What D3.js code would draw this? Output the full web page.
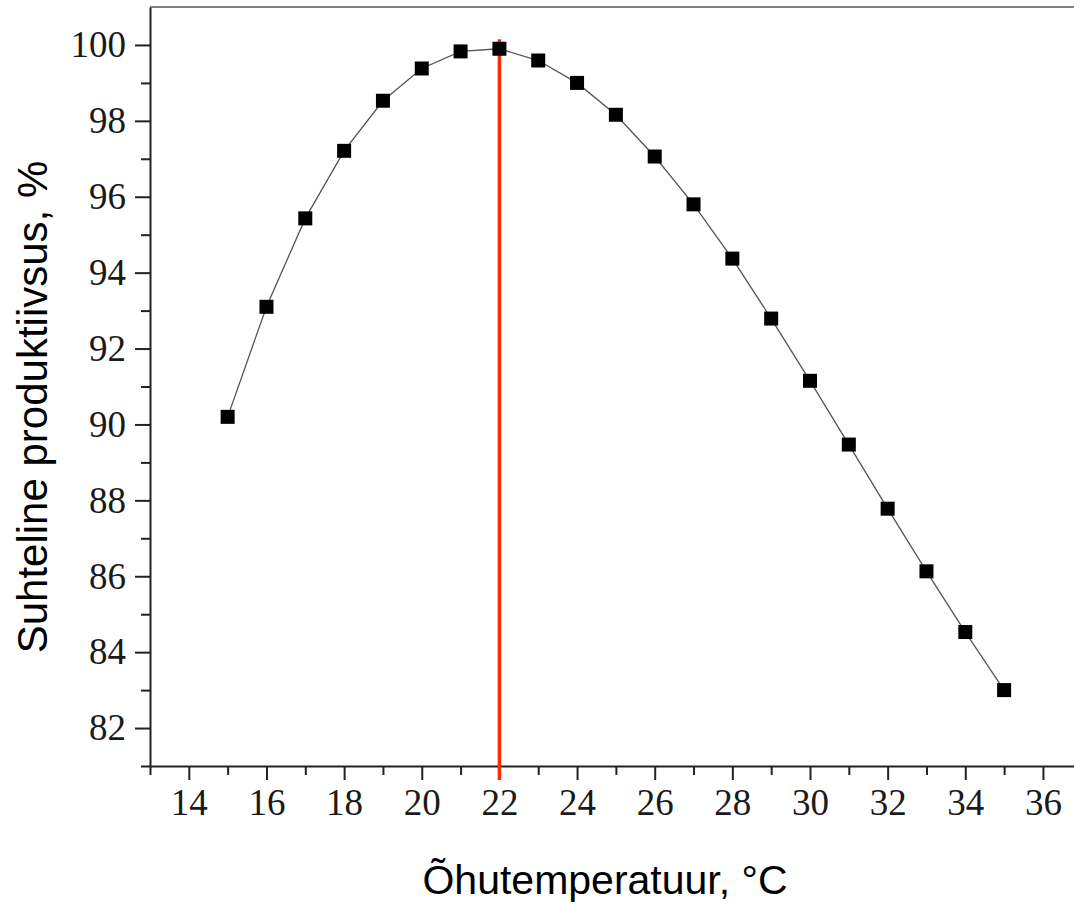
<!DOCTYPE html>
<html>
<head>
<meta charset="utf-8">
<script src="https://cdn.jsdelivr.net/npm/d3@7"></script>
<style>
  body { margin: 0; background: #fff; }
  svg { display: block; }
</style>
</head>
<body>
<svg id="chart" width="1074" height="904"></svg>
<script>
// air temperature (°C) and relative productivity (%)
const temperatures = [15, 16, 17, 18, 19, 20, 21, 22, 23, 24, 25, 26, 27, 28, 29, 30, 31, 32, 33, 34, 35];
const productivity = [90.2, 93.1, 95.43, 97.21, 98.53, 99.38, 99.83, 99.9, 99.59, 99.0, 98.16,
                      97.06, 95.8, 94.37, 92.79, 91.15, 89.47, 87.78, 86.13, 84.53, 83.0];
const xTickValues = [14, 16, 18, 20, 22, 24, 26, 28, 30, 32, 34, 36];
const yTickValues = [82, 84, 86, 88, 90, 92, 94, 96, 98, 100];
const optimumTemp = 22;
const optimumTop = 100.15;
const xTitle = "Õhutemperatuur, °C";
const yTitle = "Suhteline produktiivsus, %";

const svg = d3.select("#chart");
const margin = {top: 7, right: 0, bottom: 138, left: 150};
const width = 1074 - margin.left - margin.right;
const height = 904 - margin.top - margin.bottom;

const x = d3.scaleLinear().domain([13, 36.8]).range([0, width]);
const y = d3.scaleLinear().domain([81, 101]).range([height, 0]);

const g = svg.append("g")
    .attr("transform", `translate(${margin.left}, ${margin.top})`);

// top frame
g.append("line")
    .attr("x1", 0).attr("x2", width)
    .attr("y1", 0).attr("y2", 0)
    .attr("stroke", "#808080")
    .attr("stroke-width", 2);

// minor ticks
const xMinor = d3.range(13, 37, 1).filter(v => v % 2 === 1);
const yMinor = d3.range(81, 101, 2);

const gX = g.append("g")
    .attr("class", "x-axis")
    .attr("transform", `translate(0, ${height})`);
gX.append("g")
    .call(d3.axisBottom(x).tickValues(xMinor).tickSize(9).tickFormat(""))
    .call(a => a.select(".domain").remove());
gX.append("g")
    .call(d3.axisBottom(x).tickValues(xTickValues).tickSize(14).tickSizeOuter(0).tickPadding(9));

const gY = g.append("g").attr("class", "y-axis");
gY.append("g")
    .call(d3.axisLeft(y).tickValues(yMinor).tickSize(9).tickFormat(""))
    .call(a => a.select(".domain").remove());
gY.append("g")
    .call(d3.axisLeft(y).tickValues(yTickValues).tickSize(15).tickSizeOuter(0).tickPadding(9));

svg.selectAll(".x-axis path, .y-axis path, .x-axis line, .y-axis line")
    .attr("stroke", "#222")
    .attr("stroke-width", 2);
svg.selectAll(".x-axis text, .y-axis text")
    .attr("fill", "#1a1a1a")
    .style("font-family", "'Liberation Serif', 'Times New Roman', serif")
    .style("font-size", "37px");

// connecting line
const line = d3.line()
    .x((d, i) => x(temperatures[i]))
    .y(d => y(d));

g.append("path")
    .datum(productivity)
    .attr("d", line)
    .attr("fill", "none")
    .attr("stroke", "#555")
    .attr("stroke-width", 1.3);

// red optimum marker
g.append("line")
    .attr("x1", x(optimumTemp)).attr("x2", x(optimumTemp))
    .attr("y1", y(optimumTop)).attr("y2", height + 14)
    .attr("stroke", "#ff2a00")
    .attr("stroke-width", 3.5);

// square markers
const s = 14;
g.selectAll(".pt")
    .data(productivity)
    .enter()
    .append("rect")
        .attr("class", "pt")
        .attr("x", (d, i) => x(temperatures[i]) - s / 2)
        .attr("y", d => y(d) - s / 2)
        .attr("width", s)
        .attr("height", s)
        .attr("fill", "#000");

// axis titles
svg.append("text")
    .attr("x", 605)
    .attr("y", 894)
    .attr("text-anchor", "middle")
    .style("font-family", "'Liberation Sans', Arial, sans-serif")
    .style("font-size", "41px")
    .attr("fill", "#000")
    .text(xTitle);

svg.append("text")
    .attr("transform", "translate(47, 407) rotate(-90)")
    .attr("text-anchor", "middle")
    .style("font-family", "'Liberation Sans', Arial, sans-serif")
    .style("font-size", "42px")
    .attr("fill", "#000")
    .text(yTitle);
</script>
</body>
</html>
